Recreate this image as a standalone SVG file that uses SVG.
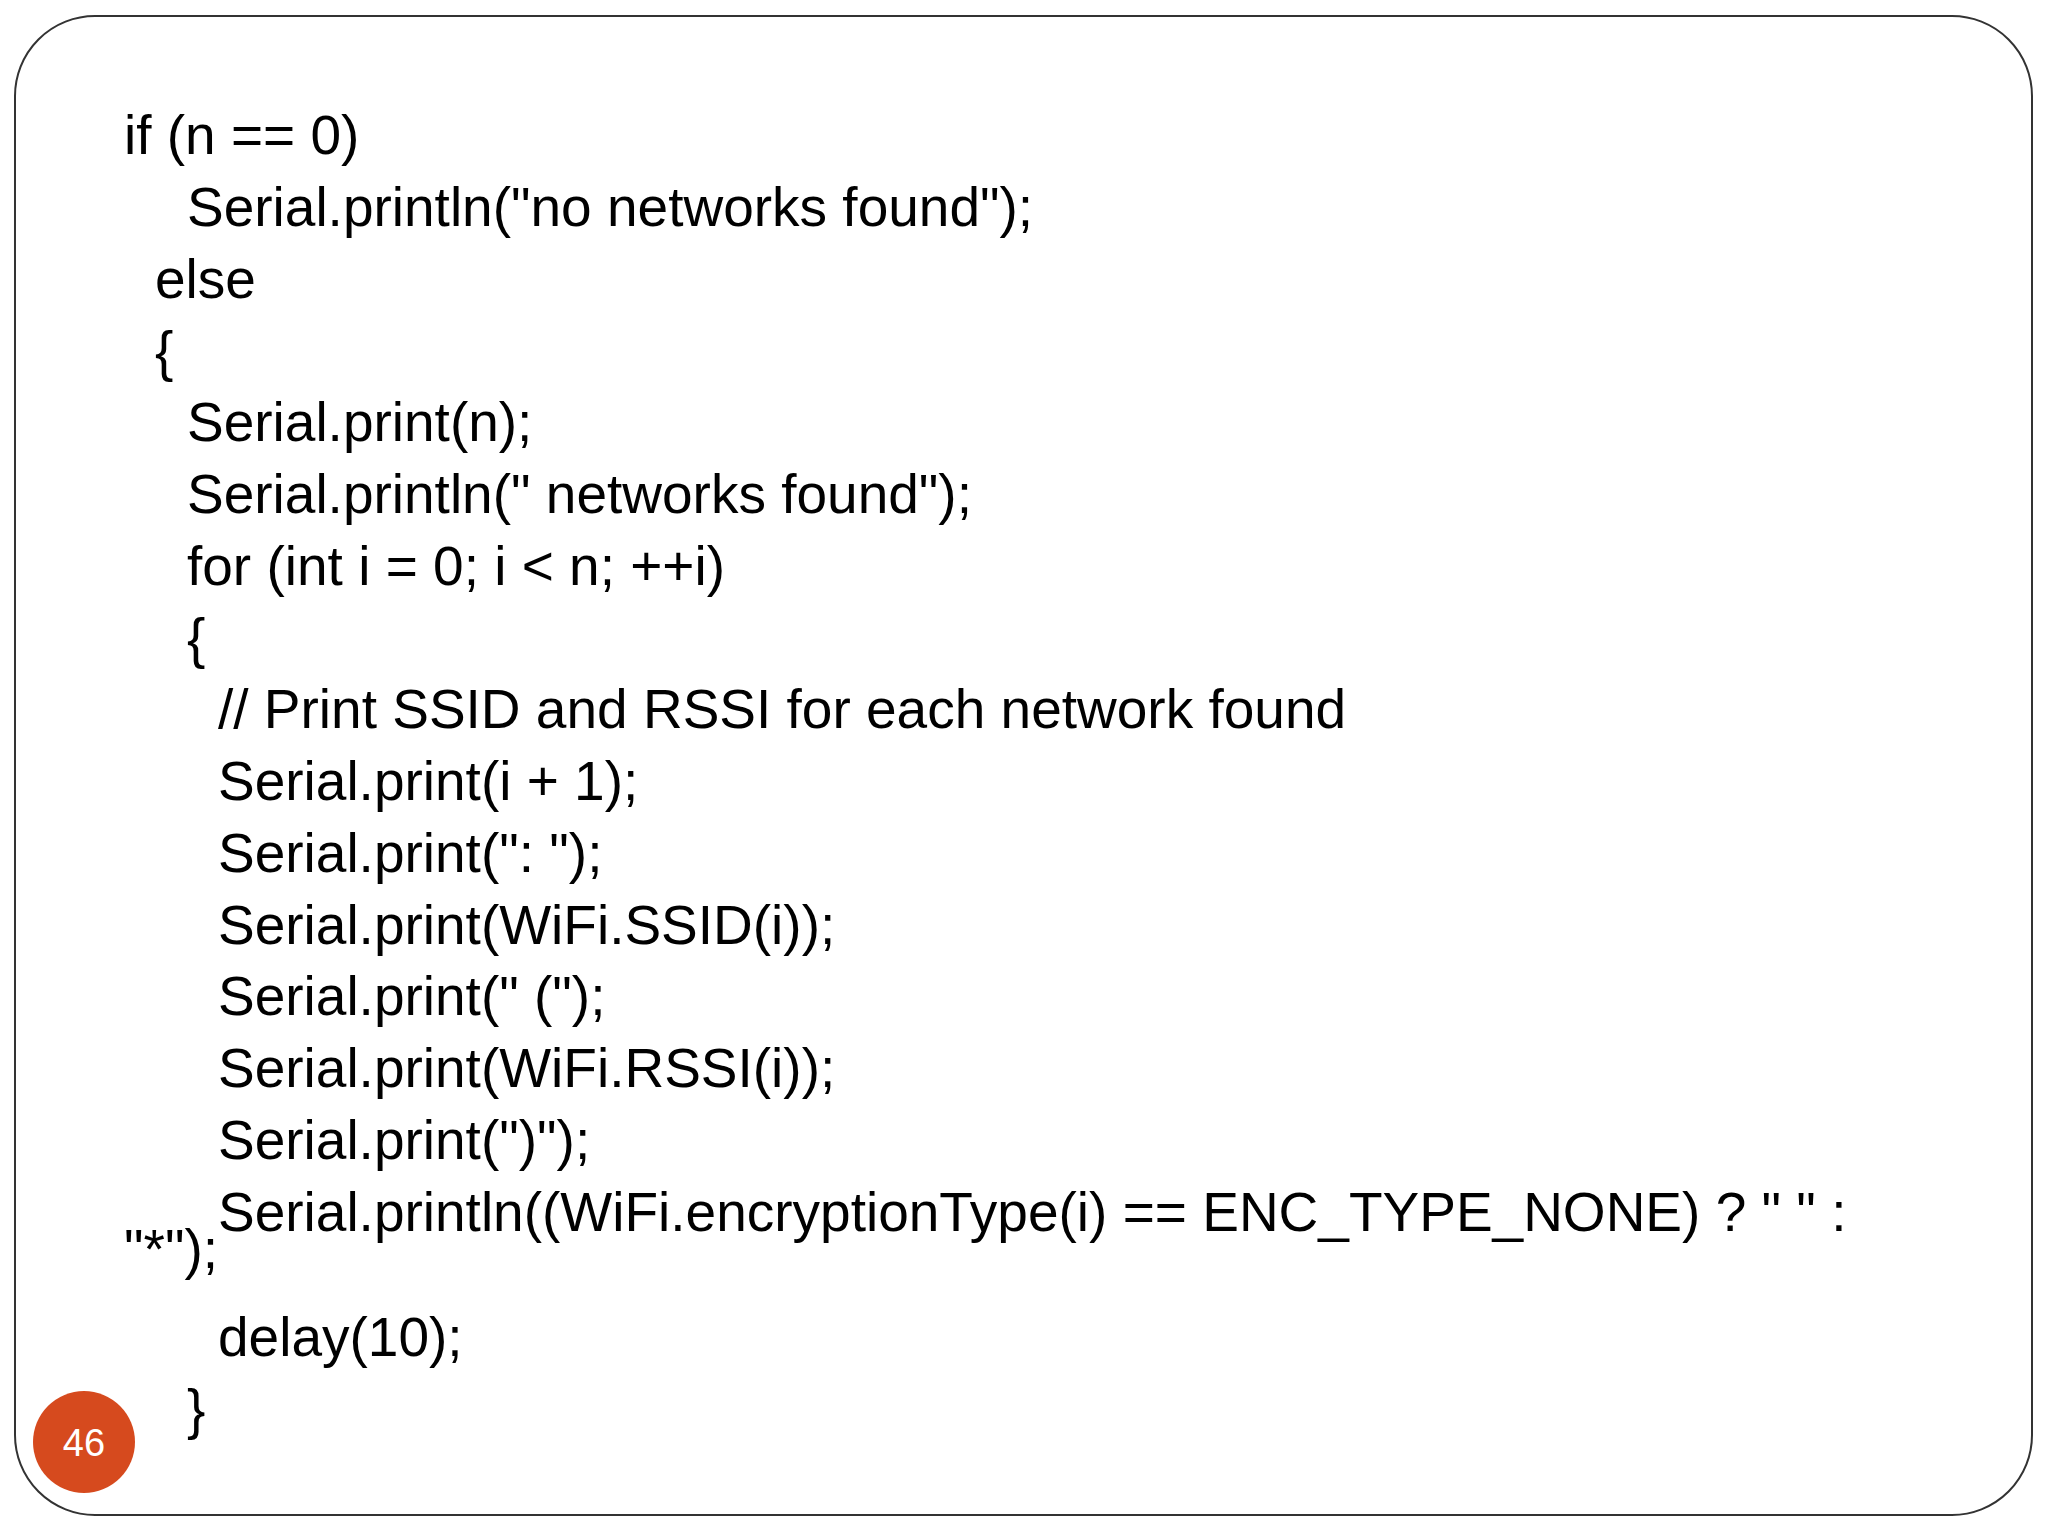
<svg xmlns="http://www.w3.org/2000/svg" width="2048" height="1536" viewBox="0 0 2048 1536">
<style>
.t{font-family:"Liberation Sans",Arial,sans-serif;font-size:55px;fill:#000;white-space:pre}
</style>
<rect width="2048" height="1536" fill="#fff"/>
<g id="frame"><rect x="15" y="16" width="2017" height="1499" rx="80" ry="80" fill="#fff" stroke="#333" stroke-width="2"/></g>
<g id="code">
<text class="t" x="124" y="154">if (n == 0)</text>
<text class="t" x="187" y="226">Serial.println("no networks found");</text>
<text class="t" x="155" y="298">else</text>
<text class="t" x="155" y="370">{</text>
<text class="t" x="187" y="441">Serial.print(n);</text>
<text class="t" x="187" y="513">Serial.println(" networks found");</text>
<text class="t" x="187" y="585">for (int i = 0; i &lt; n; ++i)</text>
<text class="t" x="187" y="657">{</text>
<text class="t" x="218" y="728">// Print SSID and RSSI for each network found</text>
<text class="t" x="218" y="800">Serial.print(i + 1);</text>
<text class="t" x="218" y="872">Serial.print(": ");</text>
<text class="t" x="218" y="944">Serial.print(WiFi.SSID(i));</text>
<text class="t" x="218" y="1015">Serial.print(" (");</text>
<text class="t" x="218" y="1087">Serial.print(WiFi.RSSI(i));</text>
<text class="t" x="218" y="1159">Serial.print(")");</text>
<text class="t" x="218" y="1231">Serial.println((WiFi.encryptionType(i) == ENC_TYPE_NONE) ? " " :</text>
<text class="t" x="124" y="1268">"*");</text>
<text class="t" x="218" y="1356">delay(10);</text>
<text class="t" x="187" y="1428">}</text>
</g>
<g id="page">
<circle cx="84" cy="1442" r="51" fill="#D64A1E"/>
<text x="84" y="1456" text-anchor="middle" font-family="Liberation Sans,Arial,sans-serif" font-size="38" fill="#fff">46</text>
</g>
</svg>
